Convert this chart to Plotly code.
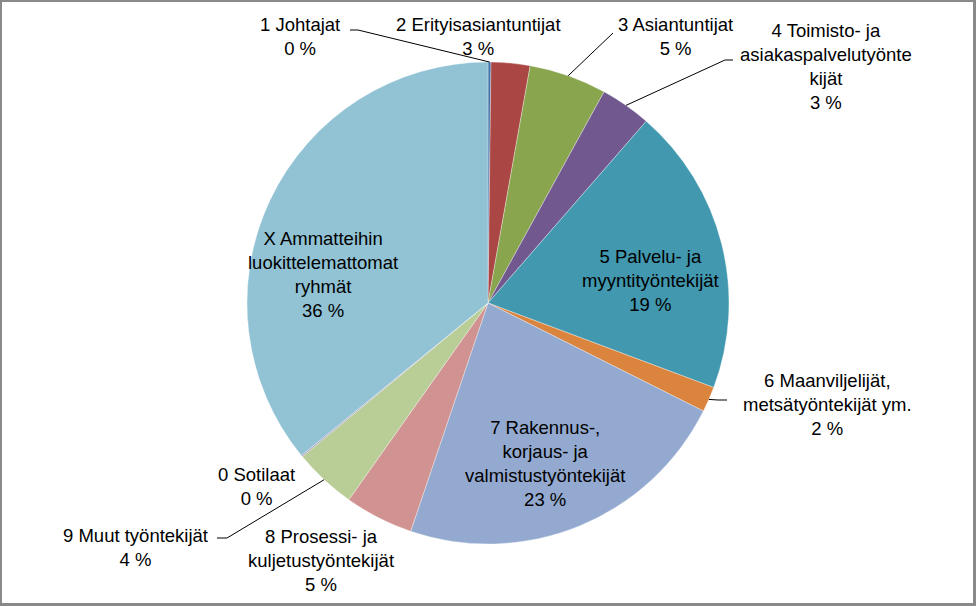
import math
import plotly.graph_objects as go

# ---- data ----
categories = [
    "1 Johtajat",
    "2 Erityisasiantuntijat",
    "3 Asiantuntijat",
    "4 Toimisto- ja asiakaspalvelutyöntekijät",
    "5 Palvelu- ja myyntityöntekijät",
    "6 Maanviljelijät, metsätyöntekijät ym.",
    "7 Rakennus-, korjaus- ja valmistustyöntekijät",
    "8 Prosessi- ja kuljetustyöntekijät",
    "9 Muut työntekijät",
    "0 Sotilaat",
    "X Ammatteihin luokittelemattomat ryhmät",
]
label_text = [
    "1 Johtajat",
    "2 Erityisasiantuntijat",
    "3 Asiantuntijat",
    "4 Toimisto- ja<br>asiakaspalvelutyönte<br>kijät",
    "5 Palvelu- ja<br>myyntityöntekijät",
    "6 Maanviljelijät,<br>metsätyöntekijät ym.",
    "7 Rakennus-,<br>korjaus- ja<br>valmistustyöntekijät",
    "8 Prosessi- ja<br>kuljetustyöntekijät",
    "9 Muut työntekijät",
    "0 Sotilaat",
    "X Ammatteihin<br>luokittelemattomat<br>ryhmät",
]
values = [0.2, 2.6, 5.2, 3.4, 19.3, 1.7, 22.8, 4.6, 4.2, 0.1, 35.9]
colors = ["#4572A7", "#AA4643", "#89A54E", "#71588F", "#4198AF", "#DB843D",
          "#93A9CF", "#D19392", "#B9CD96", "#A99BBD", "#91C3D5"]

# ---- layout constants (pixels) ----
W, H = 976, 606
CX, CY, R = 488, 303, 241

# label block centres (px)
label_pos = [(300, 36), (478, 36), (675, 36), (826, 67), (650, 280), (827, 404),
             (545, 463), (321, 560), (135, 547), (256, 486), (323, 274)]
# leader lines: elbow and end point (px)
leaders = {0: [(358, 30), (350, 30)],
           2: [(613, 33)],
           3: [(725, 60), (733, 60)],
           5: [(718, 400), (727, 400)],
           8: [(227, 538), (217, 538)]}

def px(x):
    return x / W

def py(y):
    return 1 - y / H

fig = go.Figure(go.Pie(
    labels=categories,
    values=values,
    sort=False,
    direction="clockwise",
    rotation=0,
    marker=dict(colors=colors, line=dict(color="rgba(255,255,255,0.55)", width=0.6)),
    textinfo="none",
    hoverinfo="label+percent",
    showlegend=False,
    domain=dict(x=[px(CX - R), px(CX + R)], y=[py(CY + R), py(CY - R)]),
))

total = sum(values)
annotations = []
shapes = []
cum = 0.0
for i, v in enumerate(values):
    pct = int(v / total * 100 + 0.5)
    mid = (cum + v / 2) / total * 2 * math.pi
    cum += v
    x, y = label_pos[i]
    annotations.append(dict(
        x=px(x), y=py(y), xref="paper", yref="paper",
        text=f"{label_text[i]}<br>{pct} %", showarrow=False,
        xanchor="center", yanchor="middle", align="center",
        font=dict(family="Liberation Sans, Arial, sans-serif", size=18.5, color="#000000"),
    ))
    if i in leaders:
        sx = CX + R * math.sin(mid)
        sy = CY - R * math.cos(mid)
        pts = [(sx, sy)] + leaders[i]
        path = "M " + " L ".join(f"{px(a)},{py(b)}" for a, b in pts)
        shapes.append(dict(type="path", xref="paper", yref="paper", path=path,
                           line=dict(color="#000000", width=1)))

# chart frame (grey border with shadow)
frame = "#898989"
for (x0, y0, x1, y1) in [(0, 0, 2, H), (0, 0, W, 2), (W - 3, 0, W, H), (0, H - 3, W, H)]:
    shapes.append(dict(type="rect", xref="paper", yref="paper",
                       x0=px(x0), x1=px(x1), y0=py(y1), y1=py(y0),
                       fillcolor=frame, line=dict(width=0), layer="above"))

fig.update_layout(
    width=W, height=H,
    margin=dict(l=0, r=0, t=0, b=0),
    paper_bgcolor="white", plot_bgcolor="white",
    annotations=annotations, shapes=shapes,
)

fig.write_html("out.html")
